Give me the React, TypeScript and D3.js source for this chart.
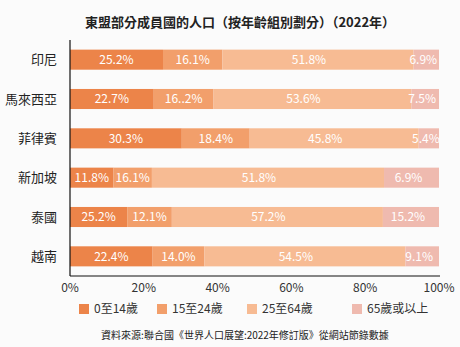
import React from "react";
import * as d3 from "d3";

const title = "東盟部分成員國的人口（按年齡組別劃分）（2022年）";
const countries = ["印尼", "馬來西亞", "菲律賓", "新加坡", "泰國", "越南"];
const seriesNames = ["0至14歲", "15至24歲", "25至64歲", "65歲或以上"];
const age0to14 = [25.2, 22.7, 30.3, 11.8, 15.5, 22.4];
const age15to24 = [16.1, 16.2, 18.4, 10.4, 12.1, 14.0];
const age25to64 = [51.8, 53.6, 45.8, 62.9, 57.2, 54.5];
const age65plus = [6.9, 7.5, 5.5, 14.9, 15.2, 9.1];
const labels0to14 = ["25.2%", "22.7%", "30.3%", "11.8%", "25.2%", "22.4%"];
const labels15to24 = ["16.1%", "16..2%", "18.4%", "16.1%", "12.1%", "14.0%"];
const labels25to64 = ["51.8%", "53.6%", "45.8%", "51.8%", "57.2%", "54.5%"];
const labels65plus = ["6.9%", "7.5%", "5.4%", "6.9%", "15.2%", "9.1%"];
const xTicks = [0, 20, 40, 60, 80, 100];
const source = "資料來源:聯合國《世界人口展望:2022年修訂版》從網站節錄數據";

const colors = ["#ec8449", "#f29f6b", "#f7bb93", "#efbaaf"];
const FONT = "'Noto Sans CJK TC', 'Noto Sans', sans-serif";

export default function App() {
  const W = 460, H = 347;
  const x = d3.scaleLinear().domain([0, 100]).range([70, 439]);
  const y = d3.scaleBand<string>().domain(countries).range([40, 276]).paddingInner(0.49).paddingOuter(0.245);
  const seriesVals = [age0to14, age15to24, age25to64, age65plus];
  const seriesLabels = [labels0to14, labels15to24, labels25to64, labels65plus];
  const rows = countries.map((c, i) => {
    const obj: any = { country: c };
    seriesNames.forEach((s, k) => (obj[s] = seriesVals[k][i]));
    return obj;
  });
  const stack = d3.stack<any>().keys(seriesNames)(rows);
  const labelShift = [0, 0, -9, -3];
  const legendX = [79, 157, 247, 352];

  return (
    <div style={{ position: "fixed", left: 0, top: 0, width: W, height: H, background: "#fbfbfb" }}>
      <svg width={W} height={H} style={{ display: "block", fontFamily: FONT }}>
        <rect width={W} height={H} fill="#fbfbfb" />
        <text x={240} y={27} textAnchor="middle" fontSize={13} fontWeight="bold" fill="#222">{title}</text>
        {stack.map((layer, k) => (
          <g key={k}>
            {layer.map((d, i) => (
              <rect key={i} x={x(d[0])} y={y(countries[i])} width={x(d[1]) - x(d[0])} height={y.bandwidth()} fill={colors[k]} />
            ))}
          </g>
        ))}
        {stack.map((layer, k) => (
          <g key={"l" + k}>
            {layer.map((d, i) => (
              <text key={i} x={(x(d[0]) + x(d[1])) / 2 + labelShift[k]} y={(y(countries[i]) as number) + y.bandwidth() / 2 + 4.3}
                textAnchor="middle" fontSize={12} fill="#fff">{seriesLabels[k][i]}</text>
            ))}
          </g>
        ))}
        {countries.map((c) => (
          <text key={c} x={57} y={(y(c) as number) + y.bandwidth() / 2 + 4.5} textAnchor="end" fontSize={13} fill="#222">{c}</text>
        ))}
        <line x1={70} x2={70} y1={40} y2={276} stroke="#111" strokeWidth={1.2} />
        <line x1={70} x2={440} y1={276} y2={276} stroke="#111" strokeWidth={1.2} />
        {xTicks.map((t) => (
          <text key={t} x={x(t)} y={292} textAnchor="middle" fontSize={12} fill="#333">{t}%</text>
        ))}
        {seriesNames.map((s, k) => (
          <g key={s}>
            <rect x={legendX[k]} y={304} width={10} height={10} fill={colors[k]} />
            <text x={legendX[k] + 15} y={313} fontSize={12} fill="#333">{s}</text>
          </g>
        ))}
        <text x={245} y={338.5} textAnchor="middle" fontSize={10} fill="#222">{source}</text>
      </svg>
    </div>
  );
}
